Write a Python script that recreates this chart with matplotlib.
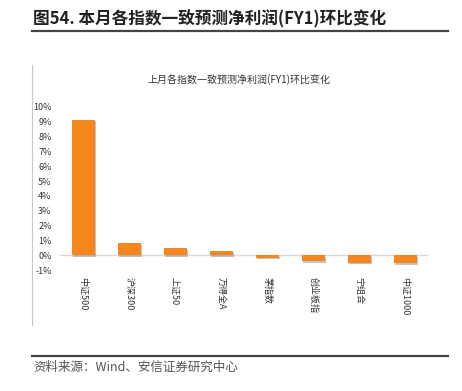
import numpy as np
import matplotlib
matplotlib.use('Agg')
import matplotlib.pyplot as plt
import matplotlib.patheffects as pe
from matplotlib.lines import Line2D
from matplotlib.ticker import MultipleLocator, FuncFormatter

plt.rcParams['font.family'] = ['Noto Sans CJK SC', 'DejaVu Sans']

# data
categories = ['中证500', '沪深300', '上证50', '万得全A', '茅指数', '创业板指', '宁组合', '中证1000']
values = [9.15, 0.83, 0.48, 0.28, -0.16, -0.42, -0.50, -0.53]  # %

fig = plt.figure(figsize=(4.62, 3.91), dpi=100)

# header / footer decorations
fig.text(33 / 462, 1 - 19 / 391, '图54. 本月各指数一致预测净利润(FY1)环比变化',
         fontsize=12, fontweight='bold', color='#222222', va='center', ha='left')
fig.add_artist(Line2D([32 / 462, 448 / 462], [1 - 31 / 391, 1 - 31 / 391],
                      color='#444444', linewidth=1.6))
fig.add_artist(Line2D([32 / 462, 448 / 462], [1 - 356 / 391, 1 - 356 / 391],
                      color='#444444', linewidth=1.6))
fig.add_artist(Line2D([32 / 462, 32 / 462], [1 - 65 / 391, 1 - 325 / 391],
                      color='#c8c8c8', linewidth=0.8))
fig.text(33 / 462, 1 - 367 / 391, '资料来源：Wind、安信证券研究中心',
         fontsize=9, style='italic', color='#555555', va='center', ha='left')

# chart
ax = fig.add_axes([60 / 462, 1 - 270 / 391, 368 / 462, (270 - 107) / 391])
x = np.arange(len(categories))
bars = ax.bar(x, values, width=0.5, color='#F8861F', zorder=3)
for b in bars:
    b.set_path_effects([pe.SimplePatchShadow(offset=(1.2, -1.2), shadow_rgbFace='#888888', alpha=0.5),
                        pe.Normal()])
ax.axhline(0, color='#d9d9d9', linewidth=1, zorder=1)

ax.set_xlim(-0.5, len(categories) - 0.5)
ax.set_ylim(-1, 10)
ax.yaxis.set_major_locator(MultipleLocator(1))
ax.yaxis.set_major_formatter(FuncFormatter(lambda v, p: '{:.0f}%'.format(v)))
ax.set_xticks(x)
ax.set_xticklabels(categories, rotation=-90, fontsize=6.5, color='#333333', va='top')
ax.tick_params(axis='both', length=0)
ax.tick_params(axis='y', labelsize=6.5, labelcolor='#333333', pad=6)
ax.tick_params(axis='x', pad=5)
for s in ax.spines.values():
    s.set_visible(False)

fig.text(239 / 462, 1 - 80 / 391, '上月各指数一致预测净利润(FY1)环比变化',
         fontsize=7.2, color='#333333', ha='center', va='center')

fig.savefig('out.png', dpi=100)
